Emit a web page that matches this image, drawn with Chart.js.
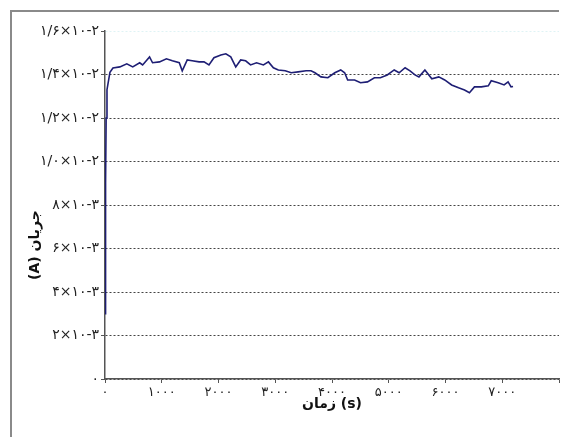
<!DOCTYPE html>
<html>
<head>
<meta charset="utf-8">
<script src="https://cdn.jsdelivr.net/npm/chart.js@4"></script>
<style>
  html, body { margin: 0; padding: 0; background: #fff; overflow: hidden; }
  canvas { display: block; }
</style>
</head>
<body>
<canvas id="chart" width="561" height="437"></canvas>
<script>
// --- data (time in s, current in 10^-3 A) ---
const times = [0, 10, 20, 35, 87, 140, 262, 384, 489, 611, 663, 785, 838, 960, 1082, 1187, 1309, 1361, 1449, 1536,
  1658, 1745, 1832, 1920, 2042, 2129, 2216, 2304, 2391, 2478, 2565, 2670, 2792, 2880, 2967, 3054, 3176, 3281, 3403,
  3543, 3630, 3700, 3805, 3927, 4049, 4154, 4223, 4276, 4398, 4503, 4625, 4747, 4852, 4974, 5096, 5183, 5288, 5375,
  5462, 5532, 5637, 5759, 5881, 5986, 6108, 6230, 6335, 6422, 6510, 6632, 6754, 6806, 6928, 7033, 7103, 7155, 7190];
const currents = [3.0, 9.0, 12.0, 13.3, 14.1, 14.3, 14.35, 14.49, 14.35, 14.54, 14.44, 14.81, 14.54, 14.58, 14.72, 14.63, 14.54, 14.17, 14.67, 14.63,
  14.58, 14.58, 14.44, 14.77, 14.90, 14.95, 14.81, 14.35, 14.67, 14.63, 14.44, 14.54, 14.44, 14.58, 14.31, 14.21, 14.17, 14.08, 14.12,
  14.17, 14.17, 14.08, 13.89, 13.85, 14.08, 14.21, 14.08, 13.75, 13.75, 13.62, 13.66, 13.85, 13.85, 13.98, 14.21, 14.08, 14.31, 14.17,
  13.98, 13.89, 14.21, 13.80, 13.89, 13.75, 13.52, 13.39, 13.29, 13.16, 13.43, 13.43, 13.48, 13.71, 13.62, 13.52, 13.66, 13.43, 13.45];

const yTickLabels = ['۰', '۲×۱۰-۳', '۴×۱۰-۳', '۶×۱۰-۳', '۸×۱۰-۳', '۱/۰×۱۰-۲', '۱/۲×۱۰-۲', '۱/۴×۱۰-۲', '۱/۶×۱۰-۲'];
const xTickLabels = ['۰', '۱۰۰۰', '۲۰۰۰', '۳۰۰۰', '۴۰۰۰', '۵۰۰۰', '۶۰۰۰', '۷۰۰۰', ''];
const xTitle = 'زمان (s)';
const yTitle = '(A) جریان';

const points = times.map((t, i) => ({ x: t, y: currents[i] }));

// outer frame (left and top edges only, the rest is cut off) and axis titles
const decorPlugin = {
  id: 'decor',
  beforeDraw(chart) {
    const ctx = chart.ctx;
    ctx.save();
    ctx.strokeStyle = '#8a8a8a';
    ctx.lineWidth = 2;
    ctx.beginPath();
    ctx.moveTo(11, 437);
    ctx.lineTo(11, 11);
    ctx.lineTo(559, 11);
    ctx.stroke();
    ctx.restore();
  },
  afterDraw(chart) {
    const ctx = chart.ctx;
    ctx.save();
    ctx.fillStyle = '#111';
    ctx.font = 'bold 14px "DejaVu Sans"';
    ctx.textAlign = 'center';
    ctx.textBaseline = 'middle';
    ctx.fillText(xTitle, (chart.chartArea.left + chart.chartArea.right) / 2, 404);
    ctx.translate(35, 245);
    ctx.rotate(-Math.PI / 2);
    ctx.fillText(yTitle, 0, 0);
    ctx.restore();
  }
};

new Chart(document.getElementById('chart').getContext('2d'), {
  type: 'line',
  data: {
    datasets: [{
      data: points,
      borderColor: '#1e1e74',
      borderWidth: 1.6,
      pointRadius: 0,
      tension: 0,
      fill: false
    }]
  },
  options: {
    responsive: false,
    animation: false,
    layout: { padding: { left: 0, top: 31, right: 0, bottom: 0 } },
    plugins: { legend: { display: false }, tooltip: { enabled: false } },
    scales: {
      x: {
        type: 'linear',
        min: 0,
        max: 8000,
        afterFit: s => { s.height = 58; },
        border: { color: '#555', width: 1.5 },
        grid: { drawOnChartArea: false, drawTicks: true, tickLength: 4, tickColor: '#555' },
        ticks: {
          stepSize: 1000,
          maxRotation: 0,
          autoSkip: false,
          padding: 2,
          color: '#222',
          font: { family: 'DejaVu Sans', size: 13 },
          callback: (v, i) => xTickLabels[i]
        }
      },
      y: {
        min: 0,
        max: 16,
        afterFit: s => { s.width = 105; },
        grid: {
          color: ctx => ctx.tick && ctx.tick.value === 16 ? '#dff3f5' : '#444',
          tickColor: '#555',
          tickLength: 4,
          lineWidth: 1
        },
        border: { color: '#555', width: 1.5, dash: [2, 2] },
        ticks: {
          stepSize: 2,
          padding: 2,
          color: '#222',
          font: { family: 'DejaVu Sans', size: 14 },
          callback: (v, i) => yTickLabels[i]
        }
      }
    }
  },
  plugins: [decorPlugin]
});
</script>
</body>
</html>
